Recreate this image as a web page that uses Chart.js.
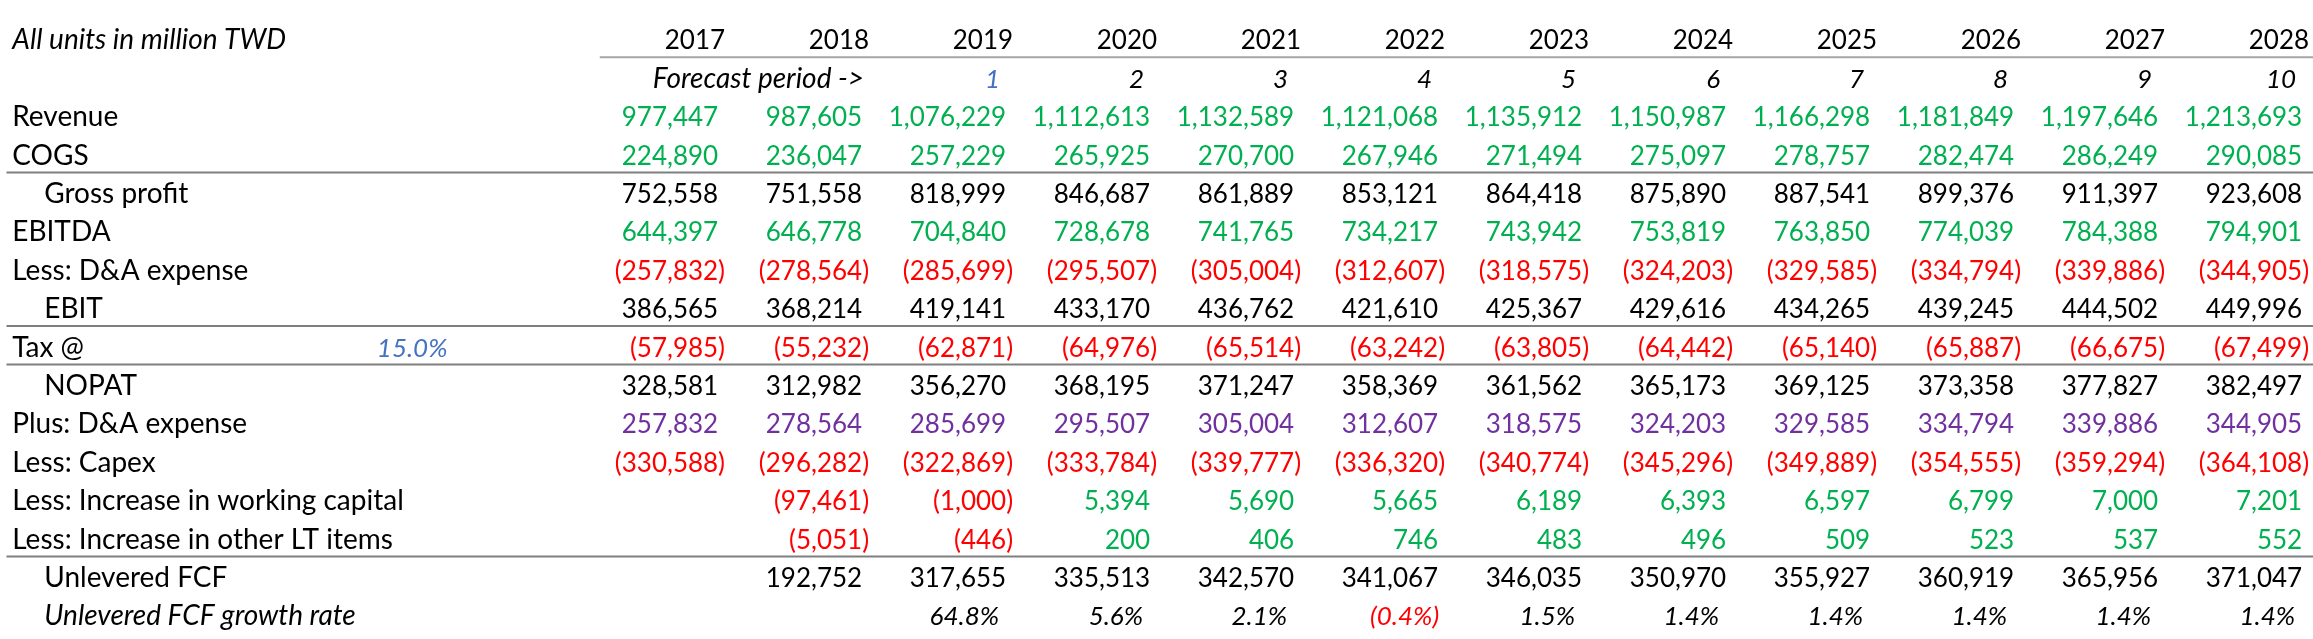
<!DOCTYPE html>
<html>
<head>
<meta charset="utf-8">
<script src="https://cdn.jsdelivr.net/npm/chart.js@4/dist/chart.umd.min.js"></script>
<style>
  html, body { margin: 0; padding: 0; background: #fff; }
  #wrap { width: 2313px; height: 639px; }
</style>
</head>
<body>
<div id="wrap"><canvas id="dcf" width="2313" height="639"></canvas></div>
<script>
// table values (million TWD)
const years = [2017, 2018, 2019, 2020, 2021, 2022, 2023, 2024, 2025, 2026, 2027, 2028];
const forecastPeriods = [null, null, 1, 2, 3, 4, 5, 6, 7, 8, 9, 10];
const revenue = [977447, 987605, 1076229, 1112613, 1132589, 1121068, 1135912, 1150987, 1166298, 1181849, 1197646, 1213693];
const cogs = [224890, 236047, 257229, 265925, 270700, 267946, 271494, 275097, 278757, 282474, 286249, 290085];
const grossProfit = [752558, 751558, 818999, 846687, 861889, 853121, 864418, 875890, 887541, 899376, 911397, 923608];
const ebitda = [644397, 646778, 704840, 728678, 741765, 734217, 743942, 753819, 763850, 774039, 784388, 794901];
const lessDA = [-257832, -278564, -285699, -295507, -305004, -312607, -318575, -324203, -329585, -334794, -339886, -344905];
const ebit = [386565, 368214, 419141, 433170, 436762, 421610, 425367, 429616, 434265, 439245, 444502, 449996];
const tax = [-57985, -55232, -62871, -64976, -65514, -63242, -63805, -64442, -65140, -65887, -66675, -67499];
const nopat = [328581, 312982, 356270, 368195, 371247, 358369, 361562, 365173, 369125, 373358, 377827, 382497];
const plusDA = [257832, 278564, 285699, 295507, 305004, 312607, 318575, 324203, 329585, 334794, 339886, 344905];
const capex = [-330588, -296282, -322869, -333784, -339777, -336320, -340774, -345296, -349889, -354555, -359294, -364108];
const workingCapital = [null, -97461, -1000, 5394, 5690, 5665, 6189, 6393, 6597, 6799, 7000, 7201];
const otherLT = [null, -5051, -446, 200, 406, 746, 483, 496, 509, 523, 537, 552];
const unleveredFCF = [null, 192752, 317655, 335513, 342570, 341067, 346035, 350970, 355927, 360919, 365956, 371047];
const fcfGrowth = [null, null, 64.8, 5.6, 2.1, -0.4, 1.5, 1.4, 1.4, 1.4, 1.4, 1.4];
const taxRate = 15.0;

const rowLabels = [
  "All units in million TWD", "", "Revenue", "COGS", "Gross profit", "EBITDA",
  "Less: D&A expense", "EBIT", "Tax @", "NOPAT", "Plus: D&A expense", "Less: Capex",
  "Less: Increase in working capital", "Less: Increase in other LT items",
  "Unlevered FCF", "Unlevered FCF growth rate"
];
const indentedRows = [4, 7, 9, 14, 15];
const italicRows = [0, 15];
const ruleAfterRows = [3, 7, 8, 13];

// layout in column / row units
const labelCol = -4.95;
const taxRateCol = -1.83;
const FONT = "Lato";
const SIZE = 26;
const LABEL_SIZE = 28;
const GREEN = "#00B050", RED = "#FF0000", PURPLE = "#7030A0", BLUE = "#4472C4";

function fmtNum(v) {
  const s = Math.abs(v).toLocaleString("en-US");
  return v < 0 ? "(" + s + ")" : s;
}
function fmtPct(v) {
  const s = Math.abs(v).toFixed(1) + "%";
  return v < 0 ? "(" + s + ")" : s;
}

// one dataset per table row
function cellRow(row, values, style) {
  const pts = [];
  values.forEach((v, j) => { if (v !== null) pts.push({ x: j, y: row, v: v }); });
  return Object.assign({ data: pts, pointRadius: 0, showLine: false, cell: true }, style);
}

const datasets = [
  cellRow(0, years, { kind: "year", color: "#000" }),
  cellRow(1, forecastPeriods, { kind: "period", color: "#000", italic: true }),
  cellRow(2, revenue, { kind: "num", color: GREEN }),
  cellRow(3, cogs, { kind: "num", color: GREEN }),
  cellRow(4, grossProfit, { kind: "num", color: "#000" }),
  cellRow(5, ebitda, { kind: "num", color: GREEN }),
  cellRow(6, lessDA, { kind: "num", color: "#000" }),
  cellRow(7, ebit, { kind: "num", color: "#000" }),
  cellRow(8, tax, { kind: "num", color: "#000" }),
  cellRow(9, nopat, { kind: "num", color: "#000" }),
  cellRow(10, plusDA, { kind: "num", color: PURPLE }),
  cellRow(11, capex, { kind: "num", color: "#000" }),
  cellRow(12, workingCapital, { kind: "num", color: GREEN }),
  cellRow(13, otherLT, { kind: "num", color: GREEN }),
  cellRow(14, unleveredFCF, { kind: "num", color: "#000" }),
  cellRow(15, fcfGrowth, { kind: "pct", color: "#000", italic: true }),
  { data: [{ x: taxRateCol, y: 8, v: taxRate }], pointRadius: 0, cell: true, kind: "pct", color: BLUE, italic: true }
];

// "Forecast period ->" sits in the 2018 column of row 1
datasets.push({ data: [{ x: 1, y: 1, v: "Forecast period ->" }], pointRadius: 0, cell: true, kind: "text", color: "#000", italic: true, size: LABEL_SIZE });

// horizontal rules
datasets.push({ type: "line", data: [{ x: -0.87, y: 0.45 }, { x: 11.1, y: 0.45 }], borderColor: "#a6a6a6", borderWidth: 2, pointRadius: 0, showLine: true });
ruleAfterRows.forEach(r => {
  datasets.push({ type: "line", data: [{ x: -4.99, y: r + 0.45 }, { x: 11.1, y: r + 0.45 }], borderColor: "#7f7f7f", borderWidth: 2, pointRadius: 0, showLine: true });
});

const tableText = {
  id: "tableText",
  afterDatasetsDraw(chart) {
    const ctx = chart.ctx;
    const xs = chart.scales.x, ys = chart.scales.y;
    ctx.save();
    ctx.textBaseline = "alphabetic";
    const base = SIZE * 0.36;

    // row labels
    ctx.textAlign = "left";
    rowLabels.forEach((lab, i) => {
      if (!lab) return;
      ctx.font = (italicRows.includes(i) ? "italic " : "") + LABEL_SIZE + "px " + FONT;
      ctx.fillStyle = "#000";
      const x = xs.getPixelForValue(labelCol) + (indentedRows.includes(i) ? 32 : 0);
      ctx.fillText(lab, x, ys.getPixelForValue(i) + base);
    });

    // cells
    ctx.textAlign = "right";
    chart.data.datasets.forEach((ds, di) => {
      if (!ds.cell) return;
      const meta = chart.getDatasetMeta(di);
      ctx.font = (ds.italic ? "italic " : "") + (ds.size || SIZE) + "px " + FONT;
      const parenW = ctx.measureText(")").width;
      meta.data.forEach((pt, j) => {
        const v = ds.data[j].v;
        let txt, off = 0, col = ds.color;
        if (ds.kind === "year") {
          txt = String(v);
        } else if (ds.kind === "period") {
          txt = String(v); off = 13;
          if (v === 1) col = BLUE;
        } else if (ds.kind === "text") {
          txt = v; off = 5;
        } else if (ds.kind === "pct") {
          txt = fmtPct(v); off = v < 0 ? 6 : 14;
          if (v < 0) col = RED;
        } else {
          txt = fmtNum(v); off = v < 0 ? 0 : parenW;
          if (v < 0) col = RED;
        }
        ctx.fillStyle = col;
        ctx.fillText(txt, pt.x - off, pt.y + base);
      });
    });
    ctx.restore();
  }
};

new Chart(document.getElementById("dcf"), {
  type: "scatter",
  data: { datasets: datasets },
  options: {
    responsive: false,
    animation: false,
    devicePixelRatio: 1,
    layout: { padding: 0 },
    plugins: { legend: { display: false }, tooltip: { enabled: false } },
    scales: {
      x: { type: "linear", display: false, min: -5.035, max: 11.027 },
      y: { type: "linear", display: false, reverse: true, min: -1.042, max: 15.599 }
    }
  },
  plugins: [tableText]
});
</script>
</body>
</html>
